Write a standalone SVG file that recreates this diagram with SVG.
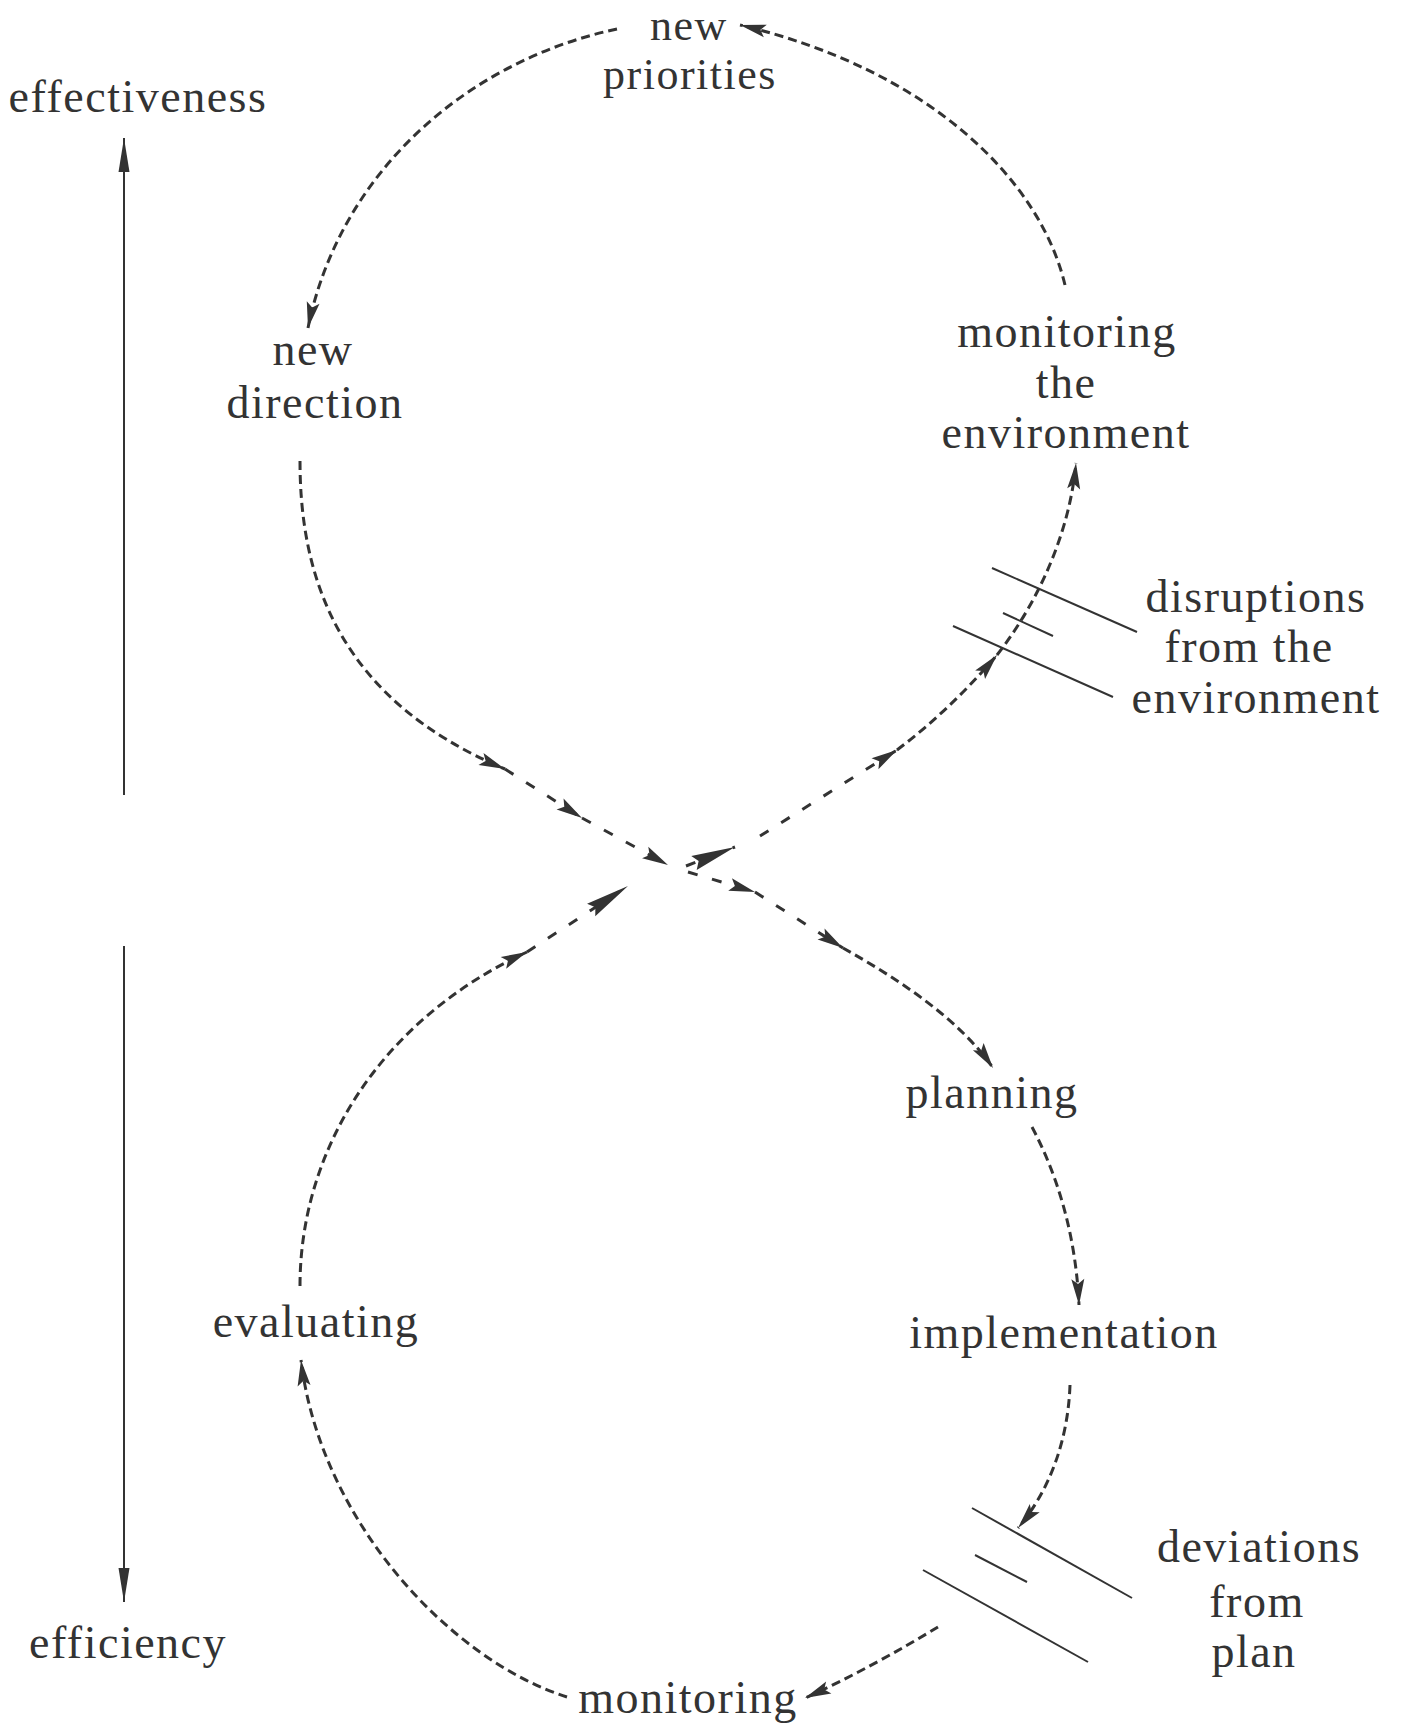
<svg xmlns="http://www.w3.org/2000/svg" width="1407" height="1730" viewBox="0 0 1407 1730">
<style>
text{font-family:"Liberation Serif","Times New Roman",serif;font-size:46px;letter-spacing:1.5px;fill:#333;text-anchor:middle}
#new-priorities text{font-size:44px}
.d{fill:none;stroke:#333;stroke-width:3;stroke-dasharray:9 5}
.s{fill:none;stroke:#333;stroke-width:3;stroke-dasharray:10 15}
.l{fill:none;stroke:#333;stroke-width:2}
</style>
<defs>
<marker id="ah" markerUnits="userSpaceOnUse" markerWidth="30" markerHeight="16" viewBox="-28 -8 30 16" refX="0" refY="0" orient="auto"><path d="M-26,-6.5 L0,0 L-26,6.5 L-21,0 z" fill="#333"/></marker>
<marker id="ahL" markerUnits="userSpaceOnUse" markerWidth="50" markerHeight="18" viewBox="-48 -9 50 18" refX="0" refY="0" orient="auto"><path d="M-44,-7.5 L0,0 L-44,7.5 L-39,0 z" fill="#333"/></marker>
<marker id="ahV" markerUnits="userSpaceOnUse" markerWidth="40" markerHeight="14" viewBox="-38 -7 40 14" refX="0" refY="0" orient="auto"><path d="M-34,-5.5 L0,0 L-34,5.5 z" fill="#333"/></marker>
</defs>

<g id="axis">
<line class="l" x1="124" y1="795" x2="124" y2="138" marker-end="url(#ahV)"/>
<line class="l" x1="124" y1="946" x2="124" y2="1602" marker-end="url(#ahV)"/>
</g>

<g id="connectors">
<path class="d" d="M1065,285 C1040,180 930,70 740,25" marker-end="url(#ah)"/>
<path class="d" d="M617,29 C470,60 340,170 308,328" marker-end="url(#ah)"/>
<path class="d" d="M300,461 C300,580 340,700 505,769" marker-end="url(#ah)"/>
<path class="s" d="M505,769 L582,818" marker-end="url(#ah)"/>
<path class="s" d="M582,818 L668,865" marker-end="url(#ah)"/>
<path class="s" d="M688,872 L755,892" marker-end="url(#ah)"/>
<path class="s" d="M755,892 L843,948" marker-end="url(#ah)"/>
<path class="d" d="M843,948 C900,980 960,1020 993,1068" marker-end="url(#ah)"/>
<path class="d" d="M1032,1127 C1060,1180 1076,1240 1079,1305" marker-end="url(#ah)"/>
<path class="d" d="M1070,1385 C1068,1440 1050,1490 1018,1528" marker-end="url(#ah)"/>
<path class="d" d="M938,1627 C900,1650 850,1678 805,1698" marker-end="url(#ah)"/>
<path class="d" d="M567,1697 C450,1660 320,1520 301,1360" marker-end="url(#ah)"/>
<path class="d" d="M300,1286 C300,1150 380,1020 527,952" marker-end="url(#ah)"/>
<path class="s" d="M527,952 L628,886" marker-end="url(#ahL)"/>
<path class="s" d="M686,866 L735,847" marker-end="url(#ahL)"/>
<path class="s" d="M760,836 L897,750" marker-end="url(#ah)"/>
<path class="d" d="M897,750 Q950,710 997,655" marker-end="url(#ah)"/>
<path class="d" d="M997,655 C1040,600 1070,530 1076,463" marker-end="url(#ah)"/>
</g>

<g id="disruptions-marks">
<line class="l" x1="992" y1="568" x2="1137" y2="632"/>
<line class="l" x1="1003" y1="613" x2="1053" y2="636"/>
<line class="l" x1="953" y1="626" x2="1113" y2="697"/>
</g>
<g id="deviations-marks">
<line class="l" x1="972" y1="1508" x2="1132" y2="1598"/>
<line class="l" x1="975" y1="1555" x2="1027" y2="1582"/>
<line class="l" x1="923" y1="1570" x2="1088" y2="1662"/>
</g>

<g id="effectiveness"><text x="138" y="112">effectiveness</text></g>
<g id="efficiency"><text x="128" y="1658">efficiency</text></g>
<g id="new-priorities"><text x="689" y="40">new</text><text x="690" y="89">priorities</text></g>
<g id="new-direction"><text x="313" y="365">new</text><text x="315" y="418">direction</text></g>
<g id="monitoring-env"><text x="1067" y="347">monitoring</text><text x="1066" y="398">the</text><text x="1066" y="448">environment</text></g>
<g id="disruptions"><text x="1256" y="612">disruptions</text><text x="1249" y="662">from the</text><text x="1256" y="713">environment</text></g>
<g id="planning"><text x="992" y="1108">planning</text></g>
<g id="implementation"><text x="1064" y="1348">implementation</text></g>
<g id="evaluating"><text x="316" y="1337">evaluating</text></g>
<g id="deviations"><text x="1259" y="1562">deviations</text><text x="1257" y="1617">from</text><text x="1254" y="1667">plan</text></g>
<g id="monitoring"><text x="688" y="1713">monitoring</text></g>
</svg>
